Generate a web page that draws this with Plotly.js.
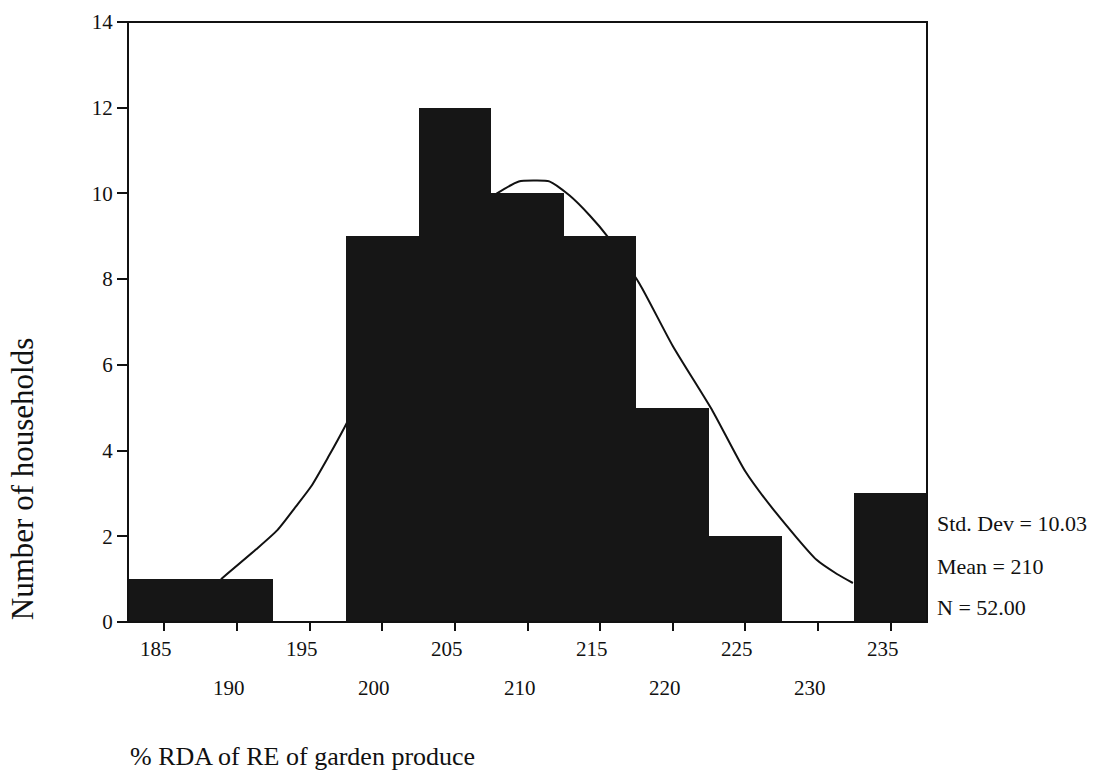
<!DOCTYPE html>
<html>
<head>
<meta charset="utf-8">
<script src="https://cdn.plot.ly/plotly-3.0.1.min.js"></script>
<style>html,body{margin:0;padding:0;background:#fff;}</style>
</head>
<body>
<div id="chart" style="width:1106px;height:783px;"></div>
<script>
// Histogram bins (centres) and counts
const binCentres = [185, 190, 195, 200, 205, 210, 215, 220, 225, 230, 235];
const counts     = [1, 1, 0, 9, 12, 10, 9, 5, 2, 0, 3];

// Tick label rows (staggered)
const upperTicks = [185, 195, 205, 215, 225, 235];
const lowerTicks = [190, 200, 210, 220, 230];

// Normal curve
const curveX = [188.9, 191.3, 192.8, 194.05, 195.1, 196.3, 197.4, 200, 202.5, 205, 207.9, 209.4, 210.5, 211.5, 212.9, 214.3, 215.5, 217.7, 220.0, 222.75, 225.0, 227.1, 229.9, 231.3, 232.4];
const curveY = [1.0, 1.69, 2.15, 2.69, 3.16, 3.86, 4.54, 6.3, 8.0, 9.3, 10.0, 10.28, 10.3, 10.28, 9.95, 9.48, 9.0, 7.9, 6.44, 4.92, 3.51, 2.55, 1.45, 1.12, 0.91];

// Summary statistics
const statLines = ["Std. Dev = 10.03", "Mean = 210", "N = 52.00"];

const xTitle = "% RDA of RE of garden produce";
const yTitle = "Number of households";

const serif = "Liberation Serif, Times New Roman, serif";

const traces = [
  {
    type: "scatter", mode: "lines",
    x: curveX, y: curveY,
    line: {color: "#111", width: 2, shape: "spline", smoothing: 0.6},
    zorder: 0, hoverinfo: "skip", showlegend: false
  },
  {
    type: "bar",
    x: binCentres, y: counts, width: 5,
    marker: {color: "#161616", line: {width: 0}},
    zorder: 1, showlegend: false
  }
];

const annotations = [];
upperTicks.forEach(v => annotations.push({
  x: v, xref: "x", y: 0, yref: "paper", yanchor: "middle", xanchor: "center",
  yshift: -27, xshift: -8, showarrow: false, text: String(v),
  font: {family: serif, size: 21, color: "#111"}
}));
lowerTicks.forEach(v => annotations.push({
  x: v, xref: "x", y: 0, yref: "paper", yanchor: "middle", xanchor: "center",
  yshift: -66, xshift: -8, showarrow: false, text: String(v),
  font: {family: serif, size: 21, color: "#111"}
}));
const statY = [0.165, 0.093, 0.025];
statLines.forEach((t, i) => annotations.push({
  x: 1, xref: "paper", y: statY[i], yref: "paper", xanchor: "left", yanchor: "middle",
  xshift: 8, showarrow: false, text: t,
  font: {family: serif, size: 22, color: "#111"}
}));
annotations.push({
  x: 0, xref: "paper", y: 0, yref: "paper", xanchor: "left", yanchor: "middle",
  yshift: -134, showarrow: false, text: xTitle,
  font: {family: serif, size: 26, color: "#111"}
});
annotations.push({
  x: 0, xref: "paper", y: 0.238, yref: "paper", xanchor: "center", yanchor: "middle",
  xshift: -106, showarrow: false, text: yTitle, textangle: -90,
  font: {family: serif, size: 31, color: "#111"}
});

const layout = {
  width: 1106, height: 783,
  margin: {l: 128, r: 179, t: 22, b: 161},
  paper_bgcolor: "#fff", plot_bgcolor: "rgba(0,0,0,0)",
  bargap: 0,
  showlegend: false,
  xaxis: {
    range: [182.5, 237.5], tickvals: binCentres, showticklabels: false,
    ticks: "outside", ticklen: 8, tickwidth: 2, tickcolor: "#111",
    showline: false, showgrid: false, zeroline: false, fixedrange: true
  },
  yaxis: {
    range: [0, 14], dtick: 2, tick0: 0,
    ticks: "outside", ticklen: 10, tickwidth: 2, tickcolor: "#111",
    tickfont: {family: serif, size: 21, color: "#111"},
    showline: false, showgrid: false, zeroline: false, fixedrange: true
  },
  shapes: [{
    type: "rect", xref: "paper", yref: "paper", x0: 0, x1: 1, y0: 0, y1: 1,
    line: {color: "#111", width: 2}, fillcolor: "rgba(0,0,0,0)", layer: "above"
  }],
  annotations: annotations
};

Plotly.newPlot("chart", traces, layout, {displayModeBar: false, staticPlot: true});
</script>
</body>
</html>
